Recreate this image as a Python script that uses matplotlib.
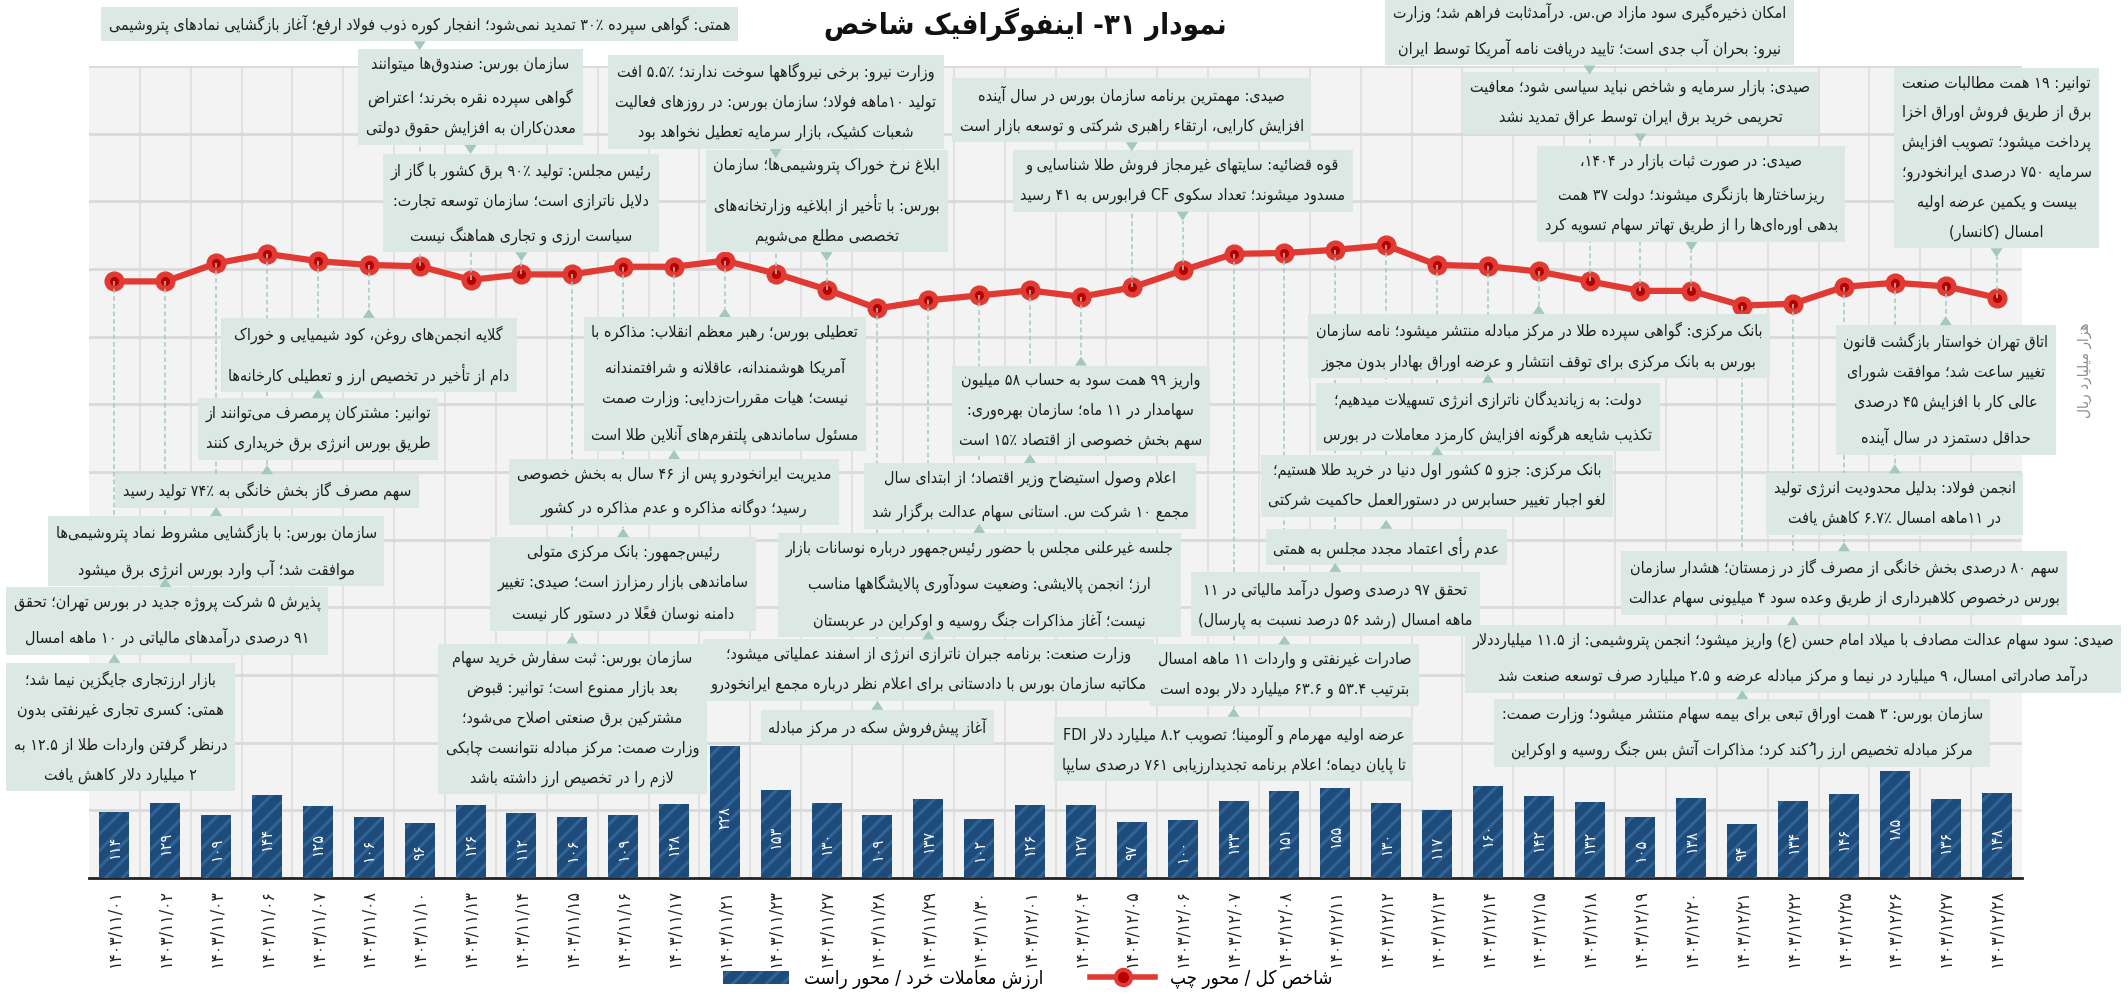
import os
import matplotlib
matplotlib.use("Agg")
import matplotlib.pyplot as plt
from matplotlib import font_manager as fm
from matplotlib.ft2font import FT2Font
from matplotlib.font_manager import FontProperties
from matplotlib.patches import Patch, Polygon
from matplotlib.lines import Line2D
from matplotlib.transforms import blended_transform_factory

# ---------------- data ----------------
dates = ['۱۴۰۳/۱۱/۰۱', '۱۴۰۳/۱۱/۰۲', '۱۴۰۳/۱۱/۰۳', '۱۴۰۳/۱۱/۰۶', '۱۴۰۳/۱۱/۰۷', '۱۴۰۳/۱۱/۰۸',
         '۱۴۰۳/۱۱/۱۰', '۱۴۰۳/۱۱/۱۳', '۱۴۰۳/۱۱/۱۴', '۱۴۰۳/۱۱/۱۵', '۱۴۰۳/۱۱/۱۶', '۱۴۰۳/۱۱/۱۷',
         '۱۴۰۳/۱۱/۲۱', '۱۴۰۳/۱۱/۲۳', '۱۴۰۳/۱۱/۲۷', '۱۴۰۳/۱۱/۲۸', '۱۴۰۳/۱۱/۲۹', '۱۴۰۳/۱۱/۳۰',
         '۱۴۰۳/۱۲/۰۱', '۱۴۰۳/۱۲/۰۴', '۱۴۰۳/۱۲/۰۵', '۱۴۰۳/۱۲/۰۶', '۱۴۰۳/۱۲/۰۷', '۱۴۰۳/۱۲/۰۸',
         '۱۴۰۳/۱۲/۱۱', '۱۴۰۳/۱۲/۱۲', '۱۴۰۳/۱۲/۱۳', '۱۴۰۳/۱۲/۱۴', '۱۴۰۳/۱۲/۱۵', '۱۴۰۳/۱۲/۱۸',
         '۱۴۰۳/۱۲/۱۹', '۱۴۰۳/۱۲/۲۰', '۱۴۰۳/۱۲/۲۱', '۱۴۰۳/۱۲/۲۲', '۱۴۰۳/۱۲/۲۵', '۱۴۰۳/۱۲/۲۶',
         '۱۴۰۳/۱۲/۲۷', '۱۴۰۳/۱۲/۲۸']

# retail trade value (right axis, thousand billion rials)
trade_value = [114, 129, 109, 144, 125, 106, 96, 126, 112, 106, 109, 128, 228, 153, 130, 109, 137, 102,
               126, 127, 97, 100, 133, 151, 155, 130, 117, 160, 142, 132, 105, 138, 94, 134, 146, 185,
               136, 148]

# total index (left axis, no tick labels in the original, values estimated)
index_value = [2645, 2645, 2725, 2767, 2735, 2718, 2712, 2652, 2676, 2676, 2710, 2710, 2737, 2680, 2609,
               2525, 2561, 2583, 2605, 2577, 2618, 2694, 2767, 2771, 2785, 2805, 2718, 2712, 2689, 2645,
               2603, 2603, 2538, 2546, 2621, 2639, 2623, 2573]

Z = "\u200c"
notes = [
    "بازار ارزتجاری جایگزین نیما شد؛\nهمتی: کسری تجاری غیرنفتی بدون\nدرنظر گرفتن واردات طلا از ۱۲.۵ به\n۲ میلیارد دلار کاهش یافت",
    "پذیرش ۵ شرکت پروژه جدید در بورس تهران؛ تحقق\n۹۱ درصدی درآمدهای مالیاتی در ۱۰ ماهه امسال",
    "سازمان بورس: با بازگشایی مشروط نماد پتروشیمی" + Z + "ها\nموافقت شد؛ آب وارد بورس انرژی برق میشود",
    "سهم مصرف گاز بخش خانگی به ۷۴٪ تولید رسید",
    "توانیر: مشترکان پرمصرف می" + Z + "توانند از\nطریق بورس انرژی برق خریداری کنند",
    "گلایه انجمن" + Z + "های روغن، کود شیمیایی و خوراک\nدام از تأخیر در تخصیص ارز و تعطیلی کارخانه" + Z + "ها",
    "همتی: گواهی سپرده ۳۰٪ تمدید نمی" + Z + "شود؛ انفجار کوره ذوب فولاد ارفع؛ آغاز بازگشایی نمادهای پتروشیمی",
    "سازمان بورس: صندوق" + Z + "ها میتوانند\nگواهی سپرده نقره بخرند؛ اعتراض\nمعدن" + Z + "کاران به افزایش حقوق دولتی",
    "رئیس مجلس: تولید ۹۰٪ برق کشور با گاز از\nدلایل ناترازی است؛ سازمان توسعه تجارت:\nسیاست ارزی و تجاری هماهنگ نیست",
    "سازمان بورس: ثبت سفارش خرید سهام\nبعد بازار ممنوع است؛ توانیر: قبوض\nمشترکین برق صنعتی اصلاح می" + Z + "شود؛\nوزارت صمت: مرکز مبادله نتوانست چابکی\nلازم را در تخصیص ارز داشته باشد",
    "رئیس" + Z + "جمهور: بانک مرکزی متولی\nساماندهی بازار رمزارز است؛ صیدی: تغییر\nدامنه نوسان فعلاً در دستور کار نیست",
    "مدیریت ایرانخودرو پس از ۴۶ سال به بخش خصوصی\nرسید؛ دوگانه مذاکره و عدم مذاکره در کشور",
    "تعطیلی بورس؛ رهبر معظم انقلاب: مذاکره با\nآمریکا هوشمندانه، عاقلانه و شرافتمندانه\nنیست؛ هیات مقررات" + Z + "زدایی: وزارت صمت\nمسئول ساماندهی پلتفرم" + Z + "های آنلاین طلا است",
    "وزارت نیرو: برخی نیروگاهها سوخت ندارند؛ ۵.۵٪ افت\nتولید ۱۰ماهه فولاد؛ سازمان بورس: در روزهای فعالیت\nشعبات کشیک، بازار سرمایه تعطیل نخواهد بود",
    "ابلاغ نرخ خوراک پتروشیمی" + Z + "ها؛ سازمان\nبورس: با تأخیر از ابلاغیه وزارتخانه" + Z + "های\nتخصصی مطلع می" + Z + "شویم",
    "آغاز پیش" + Z + "فروش سکه در مرکز مبادله",
    "وزارت صنعت: برنامه جبران ناترازی انرژی از اسفند عملیاتی میشود؛\nمکاتبه سازمان بورس با دادستانی برای اعلام نظر درباره مجمع ایرانخودرو",
    "جلسه غیرعلنی مجلس با حضور رئیس" + Z + "جمهور درباره نوسانات بازار\nارز؛ انجمن پالایشی: وضعیت سودآوری پالایشگاهها مناسب\nنیست؛ آغاز مذاکرات جنگ روسیه و اوکراین در عربستان",
    "اعلام وصول استیضاح وزیر اقتصاد؛ از ابتدای سال\nمجمع ۱۰ شرکت س. استانی سهام عدالت برگزار شد",
    "واریز ۹۹ همت سود به حساب ۵۸ میلیون\nسهامدار در ۱۱ ماه؛ سازمان بهره" + Z + "وری:\nسهم بخش خصوصی از اقتصاد ۱۵٪ است",
    "صیدی: مهمترین برنامه سازمان بورس در سال آینده\nافزایش کارایی، ارتقاء راهبری شرکتی و توسعه بازار است",
    "قوه قضائیه: سایتهای غیرمجاز فروش طلا شناسایی و\nمسدود میشوند؛ تعداد سکوی CF فرابورس به ۴۱ رسید",
    "عرضه اولیه مهرمام و آلومینا؛ تصویب ۸.۲ میلیارد دلار FDI\nتا پایان دیماه؛ اعلام برنامه تجدیدارزیابی ۷۶۱ درصدی سایپا",
    "صادرات غیرنفتی و واردات ۱۱ ماهه امسال\nبترتیب ۵۳.۴ و ۶۳.۶ میلیارد دلار بوده است",
    "تحقق ۹۷ درصدی وصول درآمد مالیاتی در ۱۱\nماهه امسال (رشد ۵۶ درصد نسبت به پارسال)",
    "عدم رأی اعتماد مجدد مجلس به همتی",
    "بانک مرکزی: جزو ۵ کشور اول دنیا در خرید طلا هستیم؛\nلغو اجبار تغییر حسابرس در دستورالعمل حاکمیت شرکتی",
    "دولت: به زیاندیدگان ناترازی انرژی تسهیلات میدهیم؛\nتکذیب شایعه هرگونه افزایش کارمزد معاملات در بورس",
    "بانک مرکزی: گواهی سپرده طلا در مرکز مبادله منتشر میشود؛ نامه سازمان\nبورس به بانک مرکزی برای توقف انتشار و عرضه اوراق بهادار بدون مجوز",
    "امکان ذخیره" + Z + "گیری سود مازاد ص.س. درآمدثابت فراهم شد؛ وزارت\nنیرو: بحران آب جدی است؛ تایید دریافت نامه آمریکا توسط ایران",
    "صیدی: بازار سرمایه و شاخص نباید سیاسی شود؛ معافیت\nتحریمی خرید برق ایران توسط عراق تمدید نشد",
    "صیدی: در صورت ثبات بازار در ۱۴۰۴،\nریزساختارها بازنگری میشوند؛ دولت ۳۷ همت\nبدهی اوره" + Z + "ای" + Z + "ها را از طریق تهاتر سهام تسویه کرد",
    "سازمان بورس: ۳ همت اوراق تبعی برای بیمه سهام منتشر میشود؛ وزارت صمت:\nمرکز مبادله تخصیص ارز را کُند کرد؛ مذاکرات آتش بس جنگ روسیه و اوکراین",
    "صیدی: سود سهام عدالت مصادف با میلاد امام حسن (ع) واریز میشود؛ انجمن پتروشیمی: از ۱۱.۵ میلیارددلار\nدرآمد صادراتی امسال، ۹ میلیارد در نیما و مرکز مبادله عرضه و ۲.۵ میلیارد صرف توسعه صنعت شد",
    "سهم ۸۰ درصدی بخش خانگی از مصرف گاز در زمستان؛ هشدار سازمان\nبورس درخصوص کلاهبرداری از طریق وعده سود ۴ میلیونی سهام عدالت",
    "انجمن فولاد: بدلیل محدودیت انرژی تولید\nدر ۱۱ماهه امسال ۶.۷٪ کاهش یافت",
    "اتاق تهران خواستار بازگشت قانون\nتغییر ساعت شد؛ موافقت شورای\nعالی کار با افزایش ۴۵ درصدی\nحداقل دستمزد در سال آینده",
    "توانیر: ۱۹ همت مطالبات صنعت\nبرق از طریق فروش اوراق اخزا\nپرداخت میشود؛ تصویب افزایش\nسرمایه ۷۵۰ درصدی ایرانخودرو؛\nبیست و یکمین عرضه اولیه\nامسال (کانسار)",
]

title = "نمودار ۳۱- اینفوگرافیک شاخص"
bar_name = "ارزش معاملات خرد / محور راست"
line_name = "شاخص کل / محور چپ"
unit_label = "هزار میلیارد ریال"

# layout of the note boxes: above/below the line, and box centre (pixels from top)
note_above = [False, False, False, False, False, False, True, True, True, False, False, False, False,
              True, True, False, False, False, False, False, True, True, False, False, False, False,
              False, False, False, True, True, True, False, False, False, False, False, True]
note_cy = [727, 621, 551, 491, 429, 355, 24, 97, 203, 719, 584, 492, 384, 102, 201, 727, 670, 585, 496,
           411, 110, 181, 749, 675, 604, 547, 486, 417, 346, 30, 103, 194, 733, 659, 583, 504, 390, 158]

# ---------------- minimal Persian shaping + bidi ----------------
ARABIC = {0x0621: (0xFE80, 1), 0x0622: (0xFE81, 2), 0x0623: (0xFE83, 2), 0x0624: (0xFE85, 2),
          0x0625: (0xFE87, 2), 0x0626: (0xFE89, 4), 0x0627: (0xFE8D, 2), 0x0628: (0xFE8F, 4),
          0x0629: (0xFE93, 2), 0x062A: (0xFE95, 4), 0x062B: (0xFE99, 4), 0x062C: (0xFE9D, 4),
          0x062D: (0xFEA1, 4), 0x062E: (0xFEA5, 4), 0x062F: (0xFEA9, 2), 0x0630: (0xFEAB, 2),
          0x0631: (0xFEAD, 2), 0x0632: (0xFEAF, 2), 0x0633: (0xFEB1, 4), 0x0634: (0xFEB5, 4),
          0x0635: (0xFEB9, 4), 0x0636: (0xFEBD, 4), 0x0637: (0xFEC1, 4), 0x0638: (0xFEC5, 4),
          0x0639: (0xFEC9, 4), 0x063A: (0xFECD, 4), 0x0641: (0xFED1, 4), 0x0642: (0xFED5, 4),
          0x0643: (0xFED9, 4), 0x0644: (0xFEDD, 4), 0x0645: (0xFEE1, 4), 0x0646: (0xFEE5, 4),
          0x0647: (0xFEE9, 4), 0x0648: (0xFEED, 2), 0x0649: (0xFEEF, 2), 0x064A: (0xFEF1, 4),
          0x067E: (0xFB56, 4), 0x0686: (0xFB7A, 4), 0x0698: (0xFB8A, 2), 0x06A9: (0xFB8E, 4),
          0x06AF: (0xFB92, 4), 0x06CC: (0xFBFC, 4)}
LAMALEF = {0x0622: 0xFEF5, 0x0623: 0xFEF7, 0x0625: 0xFEF9, 0x0627: 0xFEFB}
MIRROR = {'(': ')', ')': '(', '[': ']', ']': '[', '«': '»', '»': '«'}


def is_mark(c):
    return 0x064B <= ord(c) <= 0x0652 or ord(c) == 0x0670


def joins(c):
    return ord(c) in ARABIC or ord(c) == 0x0640


def dual(c):
    return ord(c) == 0x0640 or (ord(c) in ARABIC and ARABIC[ord(c)][1] == 4)


def shape(s):
    out = []
    n = len(s)
    i = 0
    while i < n:
        c = s[i]
        if is_mark(c):
            if out:
                out[-1] += c
            else:
                out.append(c)
            i += 1
            continue
        if c == '\u200c':
            i += 1
            continue
        if not joins(c) or ord(c) == 0x0640:
            out.append(c)
            i += 1
            continue
        j = i - 1
        while j >= 0 and is_mark(s[j]):
            j -= 1
        prev_dual = j >= 0 and dual(s[j])
        k = i + 1
        while k < n and is_mark(s[k]):
            k += 1
        nxt = s[k] if k < n else ''
        if ord(c) == 0x0644 and nxt and ord(nxt) in LAMALEF:
            out.append(chr(LAMALEF[ord(nxt)] + (1 if prev_dual else 0)))
            i = k + 1
            continue
        start, kind = ARABIC[ord(c)]
        to_next = kind == 4 and nxt != '' and joins(nxt)
        if kind == 1:
            form = 0
        elif prev_dual and to_next:
            form = 3
        elif prev_dual:
            form = 1
        elif to_next:
            form = 2
        else:
            form = 0
        out.append(chr(start + form))
        i += 1
    return out


def is_ltr(c):
    ch = c[0]
    return ch.isascii() and ch.isalnum() or '\u06f0' <= ch <= '\u06f9'


def visual(line):
    cl = shape(line)
    runs = []
    i, n = 0, len(cl)
    while i < n:
        if is_ltr(cl[i]):
            j = i + 1
            while j < n:
                if is_ltr(cl[j]):
                    j += 1
                elif cl[j] in './,' and j + 1 < n and is_ltr(cl[j + 1]):
                    j += 1
                elif cl[j] in '٪%':
                    j += 1
                else:
                    break
            runs.append(''.join(cl[i:j]))
        else:
            j = i + 1
            while j < n and not is_ltr(cl[j]):
                j += 1
            runs.append(''.join(MIRROR.get(x, x) for x in cl[i:j][::-1]))
        i = j
    return ''.join(runs[::-1])


def rtl(s):
    return '\n'.join(visual(line) for line in s.split('\n'))


def fa_num(v):
    return str(v).translate(str.maketrans('0123456789', '۰۱۲۳۴۵۶۷۸۹'))


def font_with(names):
    for name in names:
        for f in fm.fontManager.ttflist:
            if os.path.basename(f.fname) == name:
                try:
                    if FT2Font(f.fname).get_char_index(0xFEE3):
                        return f.fname
                except Exception:
                    pass
    return fm.findfont('DejaVu Sans')


reg_path = font_with(['DejaVuSansCondensed.ttf', 'DejaVuSans.ttf'])
bold_path = font_with(['DejaVuSansCondensed-Bold.ttf', 'DejaVuSans-Bold.ttf', 'DejaVuSansCondensed.ttf'])
fp_note = FontProperties(fname=reg_path, size=11.5)
fp_tick = FontProperties(fname=reg_path, size=12.5)
fp_bar = FontProperties(fname=reg_path, size=11.5)
fp_leg = FontProperties(fname=reg_path, size=13.5)
fp_title = FontProperties(fname=bold_path, size=21)
fp_unit = FontProperties(fname=reg_path, size=11)

# ---------------- figure ----------------
W, H = 2128, 1000
RED, DARKRED = '#e03a32', '#b30000'
BLUE, BLUE2 = '#1f4b7a', '#2f6498'
BOX, TEAL = '#dce8e4', '#a3c8bf'
plt.rcParams['hatch.linewidth'] = 2.2
plt.rcParams['hatch.color'] = BLUE2

fig = plt.figure(figsize=(W / 100, H / 100), dpi=100)
ax = fig.add_axes([89 / W, 122 / H, 1933 / W, 812 / H])
ax2 = ax.twinx()
x = list(range(len(dates)))

ax.set_facecolor('#f3f3f3')
ax.set_axisbelow(True)
ax.set_xlim(-0.5, len(dates) - 0.5)
ax.set_ylim(0, 3600)
ax.set_yticks(range(300, 3601, 300))
ax.set_xticks(x)
ax.set_xticks([i + 0.5 for i in x[:-1]], minor=True)
ax.grid(axis='y', color='#dadada', lw=2)
ax.grid(axis='x', which='minor', color='#dedede', lw=1.2)
ax.tick_params(axis='y', length=0, labelleft=False)
ax.tick_params(axis='x', which='both', length=0, pad=8)
ax.set_xticklabels(dates, rotation=90, va='top', ha='center')
for lbl in ax.get_xticklabels():
    lbl.set_fontproperties(fp_tick)
    lbl.set_color('#222222')
for side in ['left', 'right', 'top']:
    ax.spines[side].set_visible(False)
ax.spines['bottom'].set_color('#222222')
ax.spines['bottom'].set_linewidth(2)

# index line
ax.plot(x, index_value, color=RED, lw=4.5, marker='o', ms=13.5, mfc=RED, mec=RED, zorder=3)
ax.plot(x, index_value, ls='none', marker='o', ms=5.5, color=DARKRED, zorder=4)

# trade value bars
ax2.bar(x, trade_value, width=0.59, color=BLUE, edgecolor=BLUE2, lw=0, hatch='//', zorder=2)
ax2.set_ylim(0, 1406)
ax2.tick_params(right=False, labelright=False)
for s in ax2.spines.values():
    s.set_visible(False)
for i, v in enumerate(trade_value):
    ax2.text(i, v * 0.46, fa_num(v), rotation=90, ha='center', va='center', color='white',
             fontproperties=fp_bar, zorder=3)

# note boxes
blend = blended_transform_factory(ax.transData, fig.transFigure)
boxes = []
for i, txt in enumerate(notes):
    t = ax2.text(i, 1 - note_cy[i] / H, rtl(txt), transform=blend, ha='center', va='center',
                 multialignment='center', fontproperties=fp_note, color='#1e1e1e', linespacing=2.12,
                 bbox=dict(boxstyle='square,pad=0.47', fc=BOX, ec='none'), zorder=6, clip_on=False)
    boxes.append(t)

fig.canvas.draw()
r = fig.canvas.get_renderer()
for t in boxes:
    bb = t.get_bbox_patch().get_window_extent(r)
    shift = 0
    if bb.x0 < 6:
        shift = 6 - bb.x0
    elif bb.x1 > W - 6:
        shift = W - 6 - bb.x1
    if shift:
        xd = ax.transData.transform((t.get_position()[0], 0))[0] + shift
        t.set_x(ax.transData.inverted().transform((xd, 0))[0])
fig.canvas.draw()

inv = fig.transFigure.inverted()
for i, t in enumerate(boxes):
    bb = t.get_bbox_patch().get_window_extent(r)
    px, py = ax.transData.transform((i, index_value[i]))
    if note_above[i]:
        edge = bb.y0
        tip = edge - 9
    else:
        edge = bb.y1
        tip = edge + 9
    (x0, y0), (x1, y1) = inv.transform([(px, py), (px, tip)])
    ax2.add_line(Line2D([x0, x1], [y0, y1], transform=fig.transFigure, color=TEAL, lw=1.1,
                        ls=(0, (3, 2)), zorder=5, clip_on=False))
    tri = inv.transform([(px - 6, edge), (px + 6, edge), (px, tip)])
    ax2.add_patch(Polygon(tri, closed=True, transform=fig.transFigure, fc=TEAL, ec='none',
                          zorder=7, clip_on=False))

fig.text(1025 / W, 1 - 24 / H, rtl(title), ha='center', va='center', fontproperties=fp_title,
         color='#111111')
fig.text(2085 / W, 1 - 370 / H, rtl(unit_label), rotation=90, ha='center', va='center',
         fontproperties=fp_unit, color='#8c8c8c')

h_bar = Patch(facecolor=BLUE, edgecolor=BLUE2, hatch='//', lw=0)
h_line = Line2D([], [], color=RED, lw=4, marker='o', ms=11, mfc=DARKRED, mec=RED, mew=3)
fig.legend([h_bar, h_line], [rtl(bar_name), rtl(line_name)], loc='center',
           bbox_to_anchor=(0.483, 0.021), ncol=2, frameon=False, prop=fp_leg,
           handlelength=3.5, columnspacing=2.5)

fig.savefig('out.png', dpi=100, facecolor='white')
